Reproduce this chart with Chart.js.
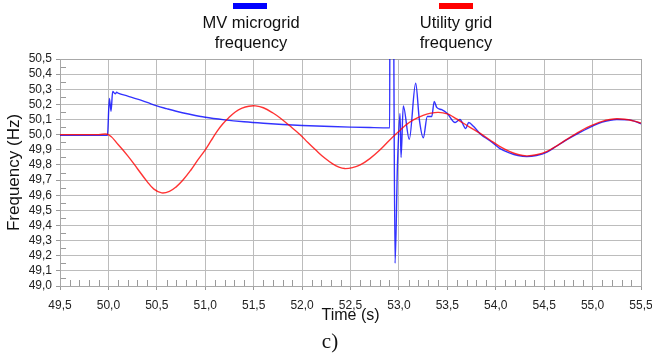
<!DOCTYPE html>
<html>
<head>
<meta charset="utf-8">
<script src="https://cdn.jsdelivr.net/npm/chart.js@4.4.1/dist/chart.umd.min.js"></script>
<style>
  body { margin: 0; background: #fff; }
  #wrap { position: relative; width: 652px; height: 363px; font-family: "Liberation Sans", Arial, sans-serif; color: #111; }
  .swatch { position: absolute; width: 34px; height: 6px; }
  .leg { position: absolute; width: 140px; text-align: center; font-size: 16.5px; line-height: 20px; }
  #caption { position: absolute; left: 300px; width: 60px; top: 329px; text-align: center; font-family: "Liberation Serif", "Times New Roman", serif; font-size: 21px; }
</style>
</head>
<body>
<div id="wrap">
  <canvas id="grafico" width="652" height="363"></canvas>
  <div class="swatch" style="left:233px; top:3px; background:#0000ff;"></div>
  <div class="leg" style="left:181px; top:12px;">MV microgrid<br>frequency</div>
  <div class="swatch" style="left:439px; top:3px; background:#ff0000;"></div>
  <div class="leg" style="left:386px; top:12px;">Utility grid<br>frequency</div>
  <div id="caption">c)</div>
</div>
<script>
// axis limits
var xMin = 49.5, xMax = 55.5, xStep = 0.5;
var yMin = 49.0, yMax = 50.5, yStep = 0.1;

// Utility grid frequency
var timeUtility = [49.5, 49.9, 50.0, 50.1, 50.2, 50.3, 50.4, 50.47, 50.55, 50.63, 50.7, 50.77, 50.85, 50.92, 51.0,
    51.06, 51.12, 51.18, 51.24, 51.31, 51.38, 51.45, 51.52, 51.6, 51.7, 51.78, 51.86, 51.98, 52.06, 52.15,
    52.24, 52.32, 52.38, 52.44, 52.52, 52.6, 52.7, 52.8, 52.9, 53.01, 53.08, 53.15, 53.25, 53.33, 53.41,
    53.5, 53.56, 53.63, 53.73, 53.84, 53.94, 54.04, 54.14, 54.23, 54.32, 54.42, 54.53, 54.63, 54.73, 54.8,
    54.87, 54.94, 55.01, 55.1, 55.18, 55.25, 55.33, 55.42, 55.5];
var freqUtility = [50.0, 50.0, 50.0, 49.935, 49.86, 49.775, 49.69, 49.64, 49.615, 49.625, 49.655, 49.70, 49.765, 49.83, 49.90,
    49.96, 50.02, 50.07, 50.11, 50.15, 50.175, 50.188, 50.19, 50.178, 50.143, 50.107, 50.065, 50.0, 49.948, 49.893,
    49.842, 49.805, 49.785, 49.776, 49.782, 49.80, 49.842, 49.897, 49.962, 50.028, 50.068, 50.098, 50.128, 50.142, 50.147,
    50.137, 50.118, 50.09, 50.05, 50.008, 49.965, 49.923, 49.89, 49.869, 49.86, 49.867, 49.89, 49.926, 49.967, 49.995,
    50.022, 50.046, 50.066, 50.088, 50.1, 50.105, 50.102, 50.091, 50.077];

// MV microgrid frequency (values above 50,5 are off the chart)
var timeMicrogrid = [49.5, 49.99, 50.01, 50.027, 50.044, 50.07, 50.085, 50.1, 50.2, 50.3, 50.4, 50.5, 50.6, 50.7,
    50.84, 51.0, 51.2, 51.4, 51.6, 51.8, 52.0, 52.3, 52.5, 52.7, 52.905, 52.907, 52.94, 52.96, 52.985, 53.011,
    53.022, 53.045, 53.107, 53.173, 53.211, 53.252, 53.293, 53.339, 53.365, 53.39, 53.442, 53.5, 53.58, 53.63,
    53.69, 53.72, 53.77, 53.84, 53.94, 54.04, 54.14, 54.23, 54.32, 54.42, 54.53, 54.63, 54.73, 54.87, 55.01,
    55.1, 55.25, 55.38, 55.5];
var freqMicrogrid = [49.995, 49.995, 50.24, 50.155, 50.285, 50.27, 50.28, 50.275, 50.255, 50.235, 50.213, 50.19, 50.172, 50.155,
    50.135, 50.115, 50.098, 50.085, 50.075, 50.067, 50.061, 50.054, 50.05, 50.047, 50.045, 51.2, 51.2, 49.15, 49.80, 50.14,
    49.85, 50.19, 49.97, 50.34, 50.10, 49.98, 50.12, 50.12, 50.22, 50.18, 50.165, 50.14, 50.08, 50.10,
    50.04, 50.08, 50.055, 50.005, 49.96, 49.91, 49.88, 49.862, 49.855, 49.862, 49.885, 49.925, 49.965, 50.015, 50.06,
    50.083, 50.1, 50.098, 50.072];

function toPoints(xs, ys) {
    return xs.map(function (x, i) { return { x: x, y: ys[i] }; });
}

function comma(v) {
    return Number(v).toFixed(1).replace('.', ',');
}

// frame and small minor ticks like the original plot
var framePlugin = {
    id: 'frame',
    beforeDatasetsDraw: function (chart) {
        var ctx = chart.ctx, a = chart.chartArea;
        var xs = chart.scales.x, ys = chart.scales.y;
        ctx.save();
        ctx.strokeStyle = '#9a9a9a';
        ctx.lineWidth = 1;
        ctx.beginPath();
        for (var i = 1; i < 60; i++) {
            if (i % 5 === 0) continue;
            var px = Math.round(xs.getPixelForValue(xMin + i * 0.1)) + 0.5;
            ctx.moveTo(px, a.bottom);
            ctx.lineTo(px, a.bottom - 6);
        }
        for (var j = 0; j < 15; j++) {
            var py = Math.round(ys.getPixelForValue(yMin + 0.05 + j * 0.1)) + 0.5;
            ctx.moveTo(a.left, py);
            ctx.lineTo(a.left + 6, py);
        }
        ctx.stroke();
        ctx.strokeStyle = '#a8a8a8';
        ctx.strokeRect(Math.round(a.left) + 0.5, Math.round(a.top) + 0.5, Math.round(a.right - a.left), Math.round(a.bottom - a.top));
        ctx.restore();
    }
};

var ctx = document.getElementById('grafico').getContext('2d');

new Chart(ctx, {
    type: 'line',
    data: {
        datasets: [
            {
                label: 'MV microgrid frequency',
                data: toPoints(timeMicrogrid, freqMicrogrid),
                borderColor: 'rgba(0,0,255,0.8)',
                borderWidth: 1.4,
                pointRadius: 0,
                cubicInterpolationMode: 'monotone',
                order: 1
            },
            {
                label: 'Utility grid frequency',
                data: toPoints(timeUtility, freqUtility),
                borderColor: 'rgba(255,0,0,0.8)',
                borderWidth: 1.4,
                pointRadius: 0,
                tension: 0.4,
                order: 0
            }
        ]
    },
    options: {
        responsive: false,
        animation: false,
        layout: { padding: { left: 0, right: 11, top: 59, bottom: 0 } },
        plugins: {
            legend: { display: false },
            tooltip: { enabled: false }
        },
        scales: {
            x: {
                type: 'linear',
                min: xMin,
                max: xMax,
                afterFit: function (s) { s.height = 77; s.paddingRight = 0; },
                ticks: {
                    stepSize: xStep,
                    color: '#222',
                    padding: 8,
                    maxRotation: 0,
                    autoSkip: false,
                    font: { family: 'Liberation Sans, Arial', size: 12 },
                    callback: function (v) { return comma(v); }
                },
                grid: {
                    color: '#bcbcbc',
                    borderDash: [2, 1],
                    tickLength: 4,
                    tickColor: '#9a9a9a',
                    tickBorderDash: []
                },
                border: { display: false },
                title: {
                    display: true,
                    text: 'Time (s)',
                    color: '#111',
                    font: { family: 'Liberation Sans, Arial', size: 16 },
                    padding: { top: 0, bottom: 38 }
                }
            },
            y: {
                min: yMin,
                max: yMax,
                afterFit: function (s) { s.width = 60; },
                ticks: {
                    stepSize: yStep,
                    color: '#222',
                    padding: 4,
                    autoSkip: false,
                    font: { family: 'Liberation Sans, Arial', size: 12 },
                    callback: function (v) { return comma(v); }
                },
                grid: {
                    color: '#bcbcbc',
                    borderDash: [1, 1],
                    tickLength: 4,
                    tickColor: '#9a9a9a',
                    tickBorderDash: []
                },
                border: { display: false },
                title: {
                    display: true,
                    text: 'Frequency (Hz)',
                    color: '#111',
                    font: { family: 'Liberation Sans, Arial', size: 17 },
                    padding: { top: 4, bottom: 0 }
                }
            }
        }
    },
    plugins: [framePlugin]
});
</script>
</body>
</html>
